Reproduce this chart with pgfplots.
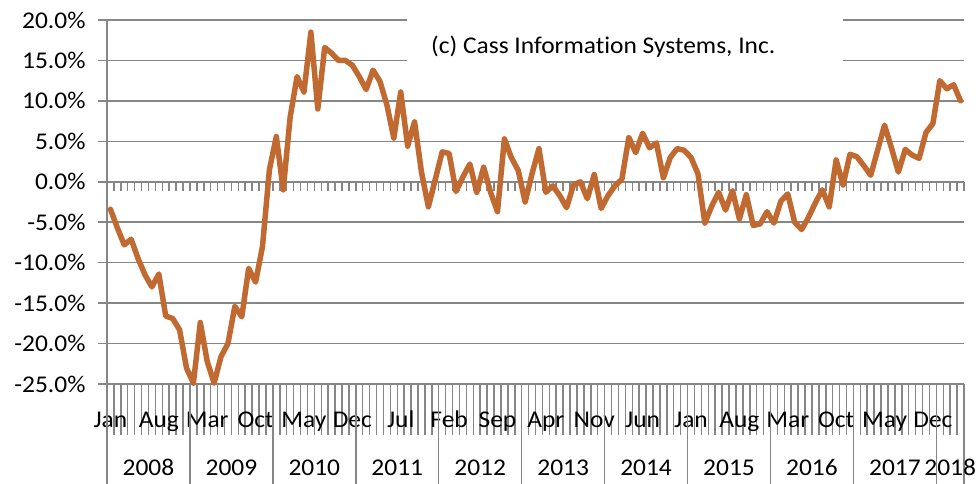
\documentclass[border=0pt]{standalone}
\usepackage{pgfplots}
\pgfplotsset{compat=1.18}
\usepackage{pgfplotstable}
\usepackage{fontspec}
\setmainfont{Carlito}[FakeStretch=1.06, Ligatures=NoCommon]

\definecolor{cassline}{RGB}{192,106,50}
\definecolor{axgray}{RGB}{134,134,134}

% year-over-year change, Jan 2008 .. Apr 2018, one line per year
\pgfplotstableread[row sep=\\]{
v\\
-3.4\\ -5.7\\ -7.8\\ -7.1\\ -9.5\\ -11.5\\ -13.0\\ -11.4\\ -16.6\\ -16.9\\ -18.3\\ -23.0\\
-24.9\\ -17.4\\ -22.2\\ -24.9\\ -21.6\\ -20.0\\ -15.4\\ -16.7\\ -10.7\\ -12.4\\ -8.0\\ 1.5\\
5.6\\ -1.0\\ 8.0\\ 13.0\\ 11.1\\ 18.5\\ 9.0\\ 16.6\\ 15.9\\ 15.0\\ 15.0\\ 14.4\\
13.0\\ 11.4\\ 13.8\\ 12.4\\ 9.5\\ 5.4\\ 11.1\\ 4.4\\ 7.4\\ 1.2\\ -3.1\\ 0.3\\
3.7\\ 3.5\\ -1.2\\ 0.6\\ 2.2\\ -1.3\\ 1.8\\ -1.3\\ -3.7\\ 5.3\\ 3.0\\ 1.4\\
-2.5\\ 1.0\\ 4.1\\ -1.3\\ -0.5\\ -1.7\\ -3.2\\ -0.4\\ 0.0\\ -2.1\\ 0.9\\ -3.3\\
-1.7\\ -0.5\\ 0.3\\ 5.5\\ 3.6\\ 6.0\\ 4.2\\ 4.8\\ 0.5\\ 3.0\\ 4.1\\ 3.9\\
3.0\\ 1.0\\ -5.1\\ -3.0\\ -1.3\\ -3.5\\ -1.1\\ -4.6\\ -1.6\\ -5.4\\ -5.2\\ -3.7\\
-5.1\\ -2.4\\ -1.5\\ -5.0\\ -5.9\\ -4.4\\ -2.6\\ -1.0\\ -3.1\\ 2.7\\ -0.4\\ 3.4\\
3.1\\ 2.0\\ 0.8\\ 3.9\\ 7.0\\ 4.2\\ 1.2\\ 4.0\\ 3.3\\ 2.9\\ 6.1\\ 7.2\\
12.5\\ 11.5\\ 12.0\\ 10.0\\
}\freight

\begin{document}
\begin{tikzpicture}
\begin{axis}[
  scale only axis, width=857pt, height=364pt,
  xmin=-0.5, xmax=123.5, ymin=-25, ymax=20,
  axis x line*=bottom, axis y line*=left,
  axis line style={axgray, line width=1.5pt},
  tick align=outside,
  tick style={axgray, line width=1.5pt},
  major x tick style={draw=none},
  major tick length=9pt, minor tick length=51pt,
  ytick={-25,-20,...,20},
  ymajorgrids, grid style={axgray, line width=1.5pt},
  yticklabel={\pgfmathprintnumber[fixed,fixed zerofill,precision=1]{\tick}\%},
  /pgf/number format/assume math mode=true,
  xtick={0,7,...,119},
  xticklabels={Jan,Aug,Mar,Oct,May,Dec,Jul,Feb,Sep,Apr,Nov,Jun,Jan,Aug,Mar,Oct,May,Dec},
  minor xtick={-0.5,0.5,...,123.5},
  tick label style={font=\fontsize{24}{28}\selectfont, text=black},
  xticklabel style={anchor=center, text height=12pt, text depth=4pt, yshift=-31pt},
  yticklabel style={xshift=-9pt},
  clip=false,
]
\fill[white] (axis cs:42.9,12.6) rectangle (axis cs:106,21);
\node[font=\fontsize{24}{28}\selectfont] at (axis cs:71.3,16.7) {(c) Cass Information Systems, Inc.};
\pgfplotsinvokeforeach{-0.5,0.5,...,123.5}{
  \draw[axgray, line width=1.5pt] (axis cs:#1,0) -- ++(0pt,-9pt);
}
\addplot[cassline, line width=5.5pt, line join=round, line cap=round]
  table[x expr=\coordindex, y=v] {\freight};
\end{axis}
\begin{axis}[
  scale only axis, width=857pt, height=364pt,
  xmin=-0.5, xmax=123.5, ymin=0, ymax=1,
  axis x line*=bottom, axis y line=none,
  x axis line style={draw=none},
  tick align=outside,
  tick style={axgray, line width=1.5pt},
  major x tick style={draw=none},
  major tick length=0pt, minor tick length=100pt,
  xtick={5.5,17.5,...,113.5,121.5},
  xticklabels={2008,2009,2010,2011,2012,2013,2014,2015,2016,2017,2018},
  minor xtick={-0.5,11.5,...,119.5,123.5},
  tick label style={font=\fontsize{24}{28}\selectfont, text=black},
  xticklabel style={anchor=center, text height=12pt, text depth=4pt, yshift=-88pt},
]
\end{axis}
\pgfresetboundingbox
\path[use as bounding box] (-107pt,-100pt) rectangle (871pt,384pt);
\end{tikzpicture}
\end{document}
